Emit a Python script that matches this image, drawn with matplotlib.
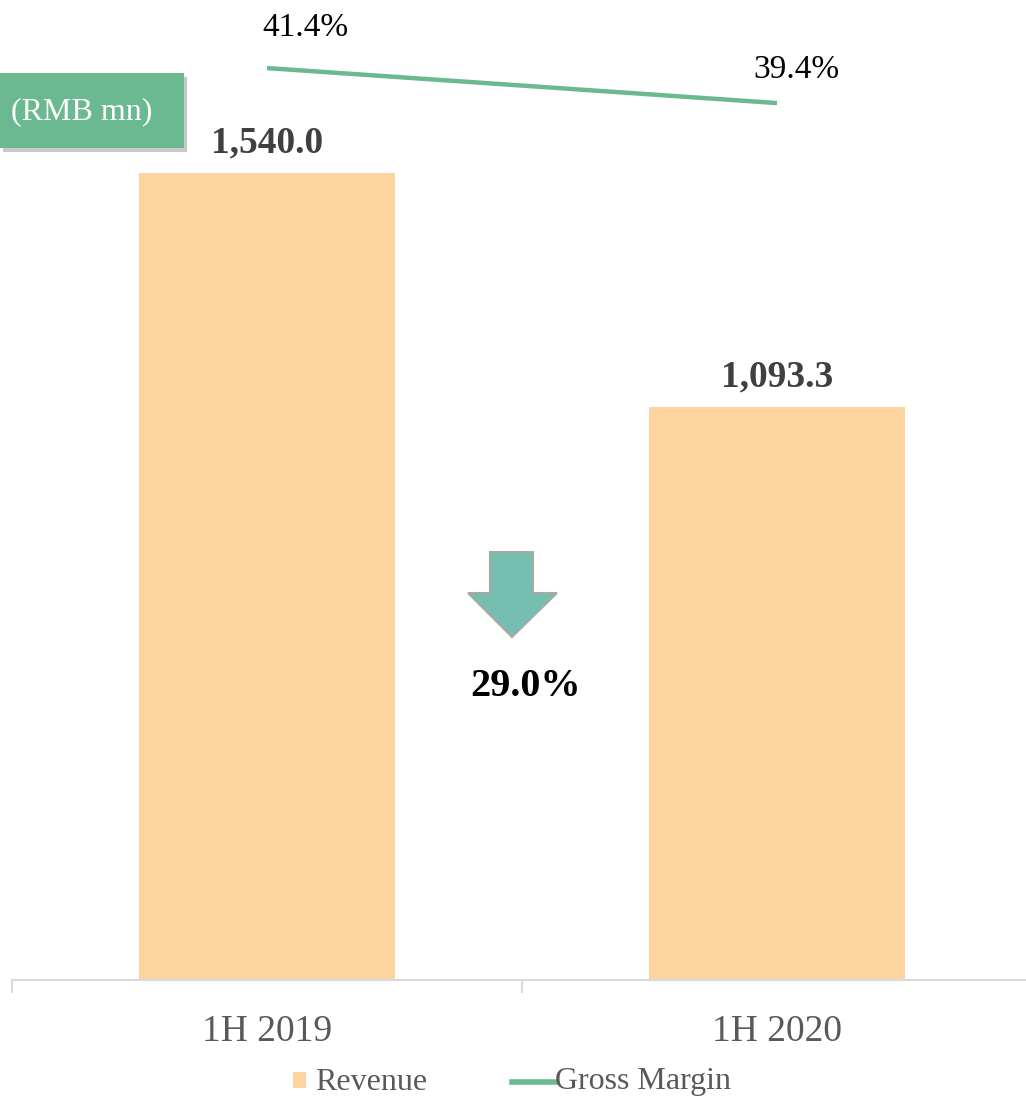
import matplotlib.pyplot as plt
import matplotlib.patheffects as pe
from matplotlib.patches import Polygon, Rectangle
from matplotlib.lines import Line2D
import numpy as np

categories = ["1H 2019", "1H 2020"]
revenue = [1540.0, 1093.3]
gross_margin = [41.4, 39.4]
revenue_change = "29.0%"
legend_labels = ["Revenue", "Gross Margin"]

plt.rcParams["font.family"] = ["Liberation Serif", "DejaVu Serif"]

bar_color = "#FDD49D"
line_color = "#6BB990"
text_grey = "#595959"

W, H = 1026, 1096
fig = plt.figure(figsize=(W / 100, H / 100), dpi=100)

# main axes: baseline at y=980px, categories span 12..1032px
ax = fig.add_axes([12 / W, (H - 980) / H, 1020 / W, 980 / H])
x = np.arange(len(categories))
bars = ax.bar(x, revenue, width=0.502, color=bar_color, zorder=2,
              path_effects=[pe.SimplePatchShadow(offset=(0, -1), shadow_rgbFace="#999999", alpha=0.5), pe.Normal()])
ax.set_xlim(-0.5, 1.5)
ax.set_ylim(0, 980 / 0.524)

for xi, v in zip(x, revenue):
    ax.annotate(f"{v:,.1f}", (xi, v), xytext=(0, 22), textcoords="offset points",
                ha="center", va="center", fontsize=27, fontweight="bold", color="#404040")

for s in ["top", "right", "left"]:
    ax.spines[s].set_visible(False)
ax.spines["bottom"].set_color("#D9D9D9")
ax.spines["bottom"].set_linewidth(1.5)
ax.set_yticks([])
ax.set_xticks([-0.5, 0.5, 1.5])
ax.set_xticklabels([])
ax.tick_params(axis="x", length=9, width=1.5, color="#D9D9D9")
for xi, c in zip(x, categories):
    ax.annotate(c, (xi, 0), xytext=(0, -37), textcoords="offset points",
                ha="center", va="center", fontsize=27, color=text_grey, annotation_clip=False)

# gross margin on a secondary scale
ax2 = ax.twinx()
ax2.plot(x, gross_margin, color=line_color, lw=3.2, solid_capstyle="butt")
ax2.set_ylim(-10.71, 45.29)
ax2.axis("off")
offsets = [(28, 29), (14, 24)]
for xi, v, off in zip(x, gross_margin, offsets):
    ax2.annotate(f"{v:.1f}%", (xi, v), xytext=off, textcoords="offset points",
                 ha="center", va="center", fontsize=24, color="black", annotation_clip=False)

# unit box
fig.patches.append(Rectangle((3 / W, (H - 152) / H), 184 / W, 75 / H, transform=fig.transFigure,
                             facecolor="#888888", alpha=0.45, edgecolor="none", zorder=4))
fig.patches.append(Rectangle((0, (H - 148) / H), 184 / W, 75 / H, transform=fig.transFigure,
                             facecolor=line_color, edgecolor="none", zorder=5))
fig.text(82 / W, (H - 112) / H, "(RMB mn)", ha="center", va="center", fontsize=23,
         color="white", zorder=6)

# down arrow
pts = [(490, 552), (533, 552), (533, 593), (557, 593), (512, 637), (468, 593), (490, 593)]
fig.patches.append(Polygon([(px / W, (H - py) / H) for px, py in pts], closed=True,
                           transform=fig.transFigure, facecolor="#76BEB0", edgecolor="#A3ABA3",
                           linewidth=1.5, zorder=5))
fig.text(526 / W, (H - 686) / H, revenue_change, ha="center", va="center", fontsize=29,
         fontweight="bold", color="black")

# legend, drawn by hand to get the small square marker
ly = (H - 1082) / H
fig.patches.append(Rectangle((293 / W, (H - 1088) / H), 13 / W, 16 / H, transform=fig.transFigure,
                             facecolor=bar_color, edgecolor="none"))
fig.text(315 / W, ly, legend_labels[0], ha="left", va="center", fontsize=23, color=text_grey)
fig.lines.append(Line2D([512 / W, 556 / W], [ly, ly], transform=fig.transFigure,
                        color=line_color, lw=4))
fig.text(555 / W, ly, legend_labels[1], ha="left", va="center", fontsize=23, color=text_grey)

fig.savefig("out.png", dpi=100)
